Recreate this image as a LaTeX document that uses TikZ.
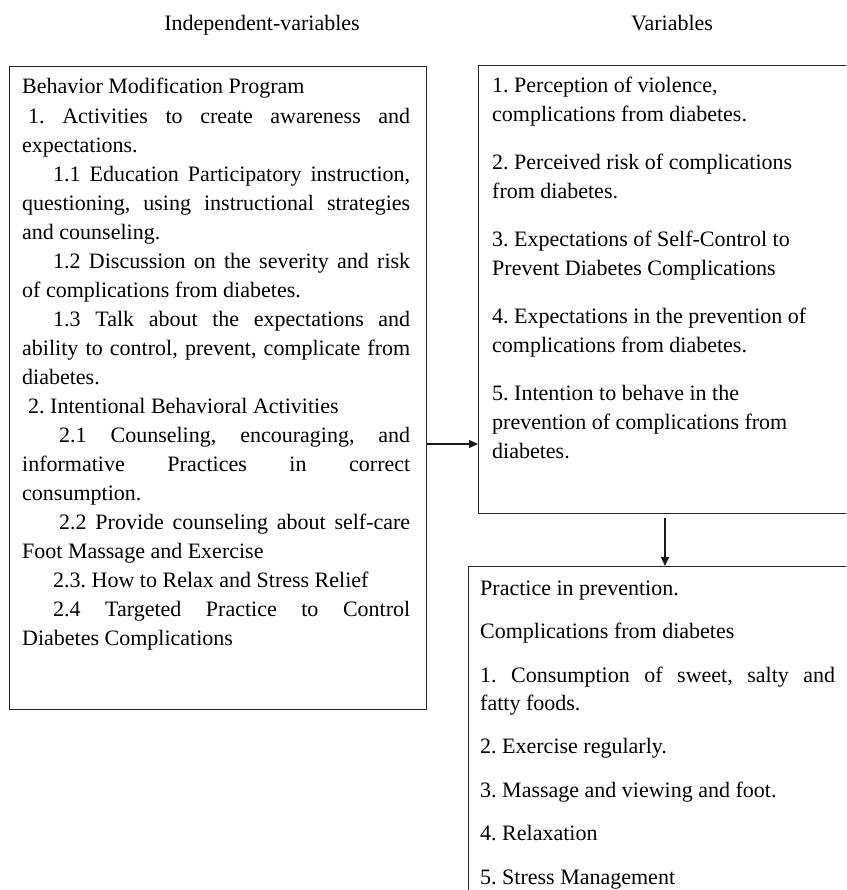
\documentclass[tikz,border=0pt]{standalone}
\usepackage{fontspec}
\setmainfont{Liberation Serif}
\usetikzlibrary{arrows.meta}
\frenchspacing
\tikzset{
  box/.style={draw=black!85, line width=1.4pt, inner sep=0pt, anchor=north west},
  txt/.style={inner sep=0pt, anchor=base west},
  arr/.style={draw=black!90, line width=1.3pt, -{Triangle[length=9pt,width=8pt]}},
  heading/.style={inner sep=0pt, anchor=base, font=\fontsize{22}{26}\selectfont}
}
\newcommand{\jline}[2][0pt]{\makebox[\linewidth][s]{\hspace*{#1}#2}}
\begin{document}
\begin{tikzpicture}[x=1pt,y=-1pt]
\useasboundingbox (0,0) rectangle (846,890);
\clip (0,0) rectangle (846,890);
\frenchspacing

% headings
\node[heading] (h1) at (262,31) {Independent-variables};
\node[heading] (h2) at (672,31) {Variables};

% boxes
\node[box, minimum width=417pt, minimum height=643pt] (ind) at (9,66) {};
\node[box, minimum width=400pt, minimum height=448pt] (var) at (478,65) {};
\node[box, minimum width=420pt, minimum height=360pt] (prac) at (468,566) {};

% left box text
\node[txt] (indtext) at (22,94) {\parbox[t]{388pt}{\fontsize{22}{29.05}\selectfont\frenchspacing
Behavior Modification Program\\
\jline[6pt]{1. Activities to create awareness and}\\
expectations.\\
\jline[31pt]{1.1 Education Participatory instruction,}\\
\jline{questioning, using instructional strategies}\\
and counseling.\\
\jline[31pt]{1.2 Discussion on the severity and risk}\\
of complications from diabetes.\\
\jline[31pt]{1.3 Talk about the expectations and}\\
\jline{ability to control, prevent, complicate from}\\
diabetes.\\
\hspace*{6pt}2. Intentional Behavioral Activities\\
\jline[37pt]{2.1 Counseling, encouraging, and}\\
\jline{informative Practices in correct}\\
consumption.\\
\jline[37pt]{2.2 Provide counseling about self-care}\\
Foot Massage and Exercise\\
\hspace*{31pt}2.3. How to Relax and Stress Relief\\
\jline[31pt]{2.4 Targeted Practice to Control}\\
Diabetes Complications}};

% right top box text
\node[txt] (vartext) at (492,93) {\parbox[t]{340pt}{\fontsize{22}{29}\selectfont\frenchspacing
1. Perception of violence,\\
complications from diabetes.\\[19pt]
2. Perceived risk of complications\\
from diabetes.\\[19pt]
3. Expectations of Self-Control to\\
Prevent Diabetes Complications\\[19pt]
4. Expectations in the prevention of\\
complications from diabetes.\\[19pt]
5. Intention to behave in the\\
prevention of complications from\\
diabetes.}};

% bottom box text
\node[txt] (practext) at (480,595) {\parbox[t]{355pt}{\fontsize{22}{28}\selectfont\frenchspacing
Practice in prevention.\\[15.5pt]
Complications from diabetes\\[15.5pt]
\jline{1. Consumption of sweet, salty and}\\
fatty foods.\\[15.5pt]
2. Exercise regularly.\\[15.5pt]
3. Massage and viewing and foot.\\[15.5pt]
4. Relaxation\\[15.5pt]
5. Stress Management}};

% connectors
\coordinate (arow) at (0,444);
\coordinate (acol) at (665,0);
\draw[arr] (ind.east |- arow) -- (var.west |- arow);
\draw[arr] ([yshift=-4pt]var.south -| acol) -- (prac.north -| acol);
\end{tikzpicture}
\end{document}
